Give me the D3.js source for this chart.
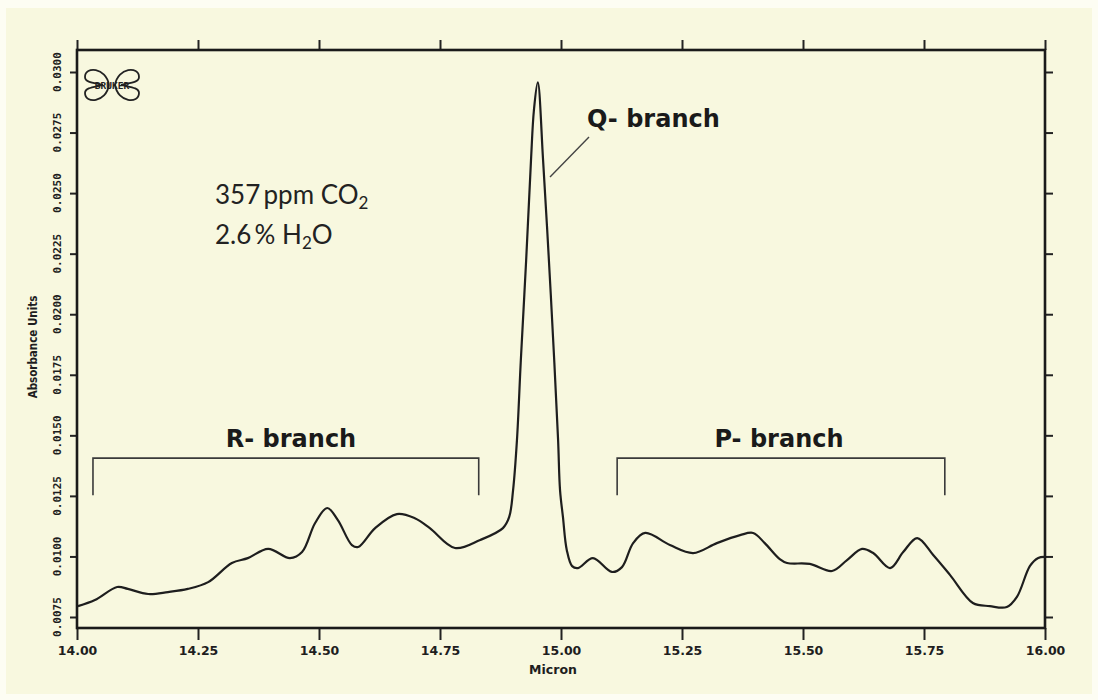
<!DOCTYPE html>
<html>
<head>
<meta charset="utf-8">
<script src="https://cdn.jsdelivr.net/npm/d3@7"></script>
<style>
  html, body { margin:0; padding:0; background:#fdfdf3; }
  svg { display:block; }
  .tick text, .tl { font-family:'DejaVu Sans','DejaVu Sans Condensed',sans-serif; font-weight:bold; fill:#1e1e1e; }
</style>
</head>
<body>
<svg id="chart" width="1098" height="700"></svg>
<script>
// ---- data (micron, absorbance units) ----
const micron = [14.002,14.037,14.083,14.105,14.147,14.188,14.229,14.271,14.320,14.353,14.395,14.440,14.465,14.492,14.517,14.539,14.568,14.581,14.616,14.661,14.698,14.729,14.781,14.833,14.880,14.893,14.901,14.909,14.917,14.928,14.938,14.944,14.952,14.963,14.975,14.986,14.994,14.998,15.004,15.012,15.023,15.035,15.066,15.105,15.126,15.149,15.174,15.225,15.273,15.322,15.370,15.397,15.421,15.452,15.467,15.514,15.560,15.591,15.622,15.645,15.680,15.707,15.736,15.769,15.804,15.851,15.886,15.921,15.942,15.969,15.986,16.000];
const absorbance = [0.00795,0.00820,0.00874,0.00866,0.00845,0.00853,0.00866,0.00894,0.00973,0.00993,0.01031,0.00993,0.01018,0.01138,0.01200,0.01150,0.01047,0.01039,0.01117,0.01175,0.01158,0.01117,0.01035,0.01068,0.01117,0.01163,0.01274,0.01480,0.01810,0.02223,0.02635,0.02841,0.02957,0.02635,0.02223,0.01810,0.01480,0.01274,0.01163,0.01026,0.00960,0.00952,0.00993,0.00936,0.00956,0.01055,0.01097,0.01047,0.01014,0.01055,0.01088,0.01097,0.01055,0.00989,0.00973,0.00969,0.00940,0.00985,0.01031,0.01014,0.00952,0.01018,0.01076,0.01006,0.00923,0.00808,0.00795,0.00791,0.00833,0.00961,0.00994,0.00998];
const xTicks = [14.00,14.25,14.50,14.75,15.00,15.25,15.50,15.75,16.00];
const yTicks = [0.0075,0.0100,0.0125,0.0150,0.0175,0.0200,0.0225,0.0250,0.0275,0.0300];
const branchNames = ["R- branch","P- branch"];
const branchFrom  = [14.033,15.116];
const branchTo    = [14.830,15.793];
const bracketTop = 0.01406, bracketEnd = 0.01253;

// ---- layout ----
const L = 77, R = 1045, T = 50, B = 628;
const svg = d3.select("#chart");
svg.append("rect").attr("x",6).attr("y",8).attr("width",1086).attr("height",686).attr("fill","#f8f8df");

const x = d3.scaleLinear().domain([14,16]).range([L,R]);
const y = d3.scaleLinear().domain([0.0075,0.0300]).range([617,72]);

// axes
const ax = svg.append("g").attr("class","axes");
const bottom = ax.append("g").attr("transform",`translate(0,${B})`)
  .call(d3.axisBottom(x).tickValues(xTicks).tickFormat(d3.format(".2f")).tickSize(12).tickPadding(6));
bottom.selectAll("text").style("font-size","12.5px");
ax.append("g").attr("transform",`translate(0,${T})`)
  .call(d3.axisTop(x).tickValues(xTicks).tickFormat("").tickSize(10));
ax.append("g").attr("transform",`translate(${L},0)`)
  .call(d3.axisLeft(y).tickValues(yTicks).tickFormat("").tickSize(7));
ax.append("g").attr("transform",`translate(${R},0)`)
  .call(d3.axisRight(y).tickValues(yTicks).tickFormat("").tickSize(8));
ax.selectAll(".domain").remove();
ax.selectAll(".tick line").attr("stroke","#222").attr("stroke-width",2);

// left rotated labels
svg.append("g").selectAll("text").data(yTicks).join("text")
  .attr("class","tl")
  .attr("transform",d=>`translate(57,${y(d)}) rotate(-90)`)
  .attr("text-anchor","middle").attr("dominant-baseline","central")
  .style("font-size","11px")
  .style("font-family","'DejaVu Sans Mono','DejaVu Sans',monospace")
  .text(d3.format(".4f"));

// frame
svg.append("rect").attr("x",L).attr("y",T).attr("width",R-L).attr("height",B-T)
  .attr("fill","none").attr("stroke","#1a1a1a").attr("stroke-width",2.6);

// axis titles
svg.append("text").attr("class","tl").attr("transform","translate(33,347) rotate(-90)")
  .attr("text-anchor","middle").attr("dominant-baseline","central").style("font-size","11.5px")
  .style("font-stretch","condensed")
  .text("Absorbance Units");
svg.append("text").attr("class","tl").attr("x",553).attr("y",674)
  .attr("text-anchor","middle").style("font-size","12.5px").style("font-weight","600").text("Micron");

// curve
const pts = micron.map((m,i)=>[m,absorbance[i]]);
svg.append("path").datum(pts)
  .attr("fill","none").attr("stroke","#1e1e1e").attr("stroke-width",2.2).attr("stroke-linejoin","round")
  .attr("d",d3.line().x(d=>x(d[0])).y(d=>y(d[1])).curve(d3.curveCatmullRom.alpha(0.5)));

const bigFont = sel => sel.style("font-family","'DejaVu Sans',sans-serif")
  .style("font-weight","bold").style("font-size","24px").style("fill","#1a1a1a");

// brackets
const br = svg.append("g");
branchNames.forEach((name,i)=>{
  const x0 = x(branchFrom[i]), x1 = x(branchTo[i]);
  br.append("path")
    .attr("d",`M${x0},${y(bracketEnd)}V${y(bracketTop)}H${x1}V${y(bracketEnd)}`)
    .attr("fill","none").attr("stroke","#3a3a3a").attr("stroke-width",1.6);
  br.append("text").attr("x",i===0 ? 291 - 0 : 779).attr("y",y(bracketTop)-11)
    .attr("text-anchor","middle").call(bigFont)
    .text(name);
});

// Q-branch
svg.append("line").attr("x1",589).attr("y1",137).attr("x2",550).attr("y2",177)
  .attr("stroke","#444").attr("stroke-width",1.4);
svg.append("text").attr("x",587).attr("y",127).call(bigFont).text("Q- branch");

// composition text
const comp = svg.append("g").style("font-family","Lato, 'Open Sans', sans-serif").style("font-size","26px").style("fill","#222");
const t1 = comp.append("text").attr("x",215).attr("y",204);
t1.append("tspan").text("357\u2009ppm CO");
t1.append("tspan").attr("dy",5).style("font-size","17px").text("2");
const t2 = comp.append("text").attr("x",215).attr("y",244);
t2.append("tspan").text("2.6\u2009% H");
t2.append("tspan").attr("dy",5).style("font-size","17px").text("2");
t2.append("tspan").attr("dy",-5).text("O");

// Bruker logo
const logo = svg.append("g").attr("transform","translate(112,85)");
[[-1,-1],[1,-1],[-1,1],[1,1]].forEach(([sx,sy])=>{
  logo.append("path")
    .attr("d",`M${sx*3},0 C${sx*6},${sy*18} ${sx*27},${sy*19} ${sx*27},${sy*8} C${sx*27},${sy*2} ${sx*16},${sy*2} ${sx*9},0`)
    .attr("fill","none").attr("stroke","#222").attr("stroke-width",1.8);
});
logo.append("text").attr("text-anchor","middle").attr("dominant-baseline","central")
  .style("font-family","'DejaVu Sans Mono','DejaVu Sans',monospace").style("font-weight","bold")
  .style("font-size","9.5px").style("fill","#222").text("BRUKER");
</script>
</body>
</html>
